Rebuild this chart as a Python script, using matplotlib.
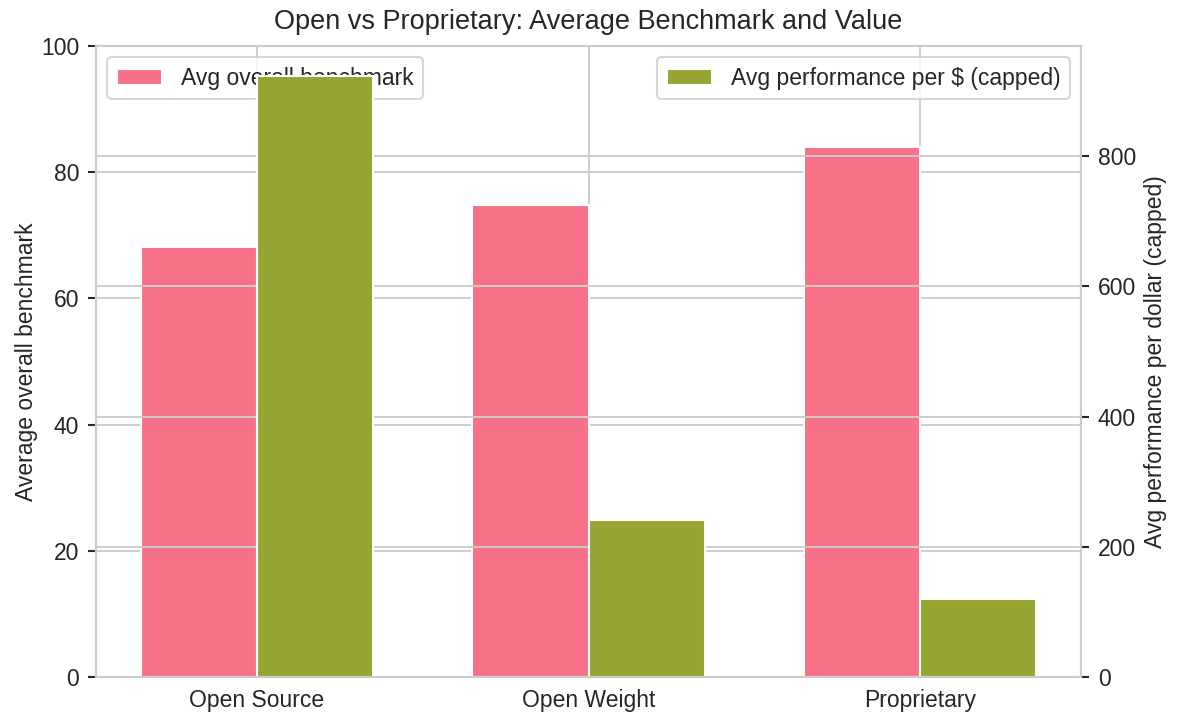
import matplotlib
matplotlib.use("Agg")
import matplotlib.pyplot as plt
import numpy as np

categories = ["Open Source", "Open Weight", "Proprietary"]
avg_benchmark = [68.1, 74.8, 84.0]
avg_perf_per_dollar = [923, 241, 120]

plt.rcParams.update({
    "font.family": ["Liberation Sans", "DejaVu Sans"],
    "font.size": 11,
    "axes.facecolor": "white",
    "axes.edgecolor": "0.8",
    "axes.linewidth": 1.0,
    "axes.grid": True,
    "axes.axisbelow": True,
    "axes.labelcolor": "0.15",
    "grid.color": "0.8",
    "grid.linewidth": 0.9,
    "text.color": "0.15",
    "xtick.color": "0.15",
    "ytick.color": "0.15",
    "xtick.labelsize": 11,
    "ytick.labelsize": 11,
    "axes.labelsize": 11,
    "legend.fontsize": 11,
    "patch.edgecolor": "white",
    "patch.force_edgecolor": True,
})

pink = "#f77189"
olive = "#97a431"

fig = plt.figure(figsize=(1178 / 150, 727 / 150), dpi=150)
ax1 = fig.add_axes([96 / 1178, 1 - 677 / 727, (1081 - 96) / 1178, (677 - 46) / 727])

x = np.arange(len(categories))
w = 0.35
ax1.bar(x - w / 2, avg_benchmark, w, color=pink, edgecolor="white", linewidth=1.0,
        label="Avg overall benchmark")
ax1.set_ylim(0, 100)
ax1.set_ylabel("Average overall benchmark", labelpad=1.5)
ax1.set_xticks(x)
ax1.set_xticklabels(categories)
ax1.tick_params(axis="x", length=0, pad=6)
ax1.tick_params(axis="y", length=4, width=1, color="0.15", pad=4)

ax2 = ax1.twinx()
ax2.bar(x + w / 2, avg_perf_per_dollar, w, color=olive, edgecolor="white", linewidth=1.0,
        label="Avg performance per $ (capped)")
ax2.set_ylabel("Avg performance per dollar (capped)")
ax2.tick_params(axis="y", length=4, width=1, color="0.15", pad=4)
ax2.grid(True, axis="y")
for sp in ax2.spines.values():
    sp.set_color("0.8")

ax1.set_title("Open vs Proprietary: Average Benchmark and Value", fontsize=13, pad=8)
ax1.legend(loc="upper left", edgecolor="0.8", fancybox=True)
ax2.legend(loc="upper right", edgecolor="0.8", fancybox=True)

fig.savefig("out.png", dpi=150)
